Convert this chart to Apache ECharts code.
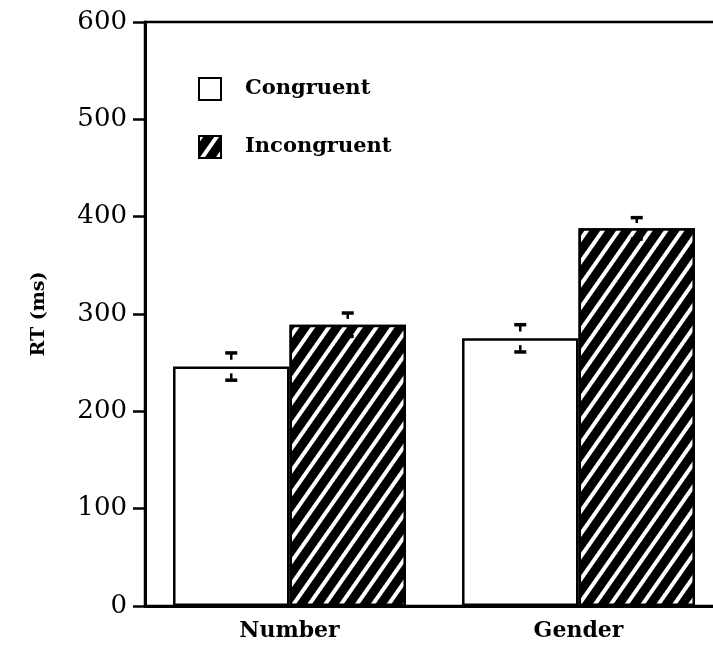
<!DOCTYPE html>
<html>
<head>
<meta charset="utf-8">
<script src="https://cdn.jsdelivr.net/npm/echarts@6/dist/echarts.min.js"></script>
<style>
html,body{margin:0;padding:0;background:#fff;}
#chart{width:713px;height:646px;}
</style>
</head>
<body>
<div id="chart"></div>
<script>
const categories = ['Number', 'Gender'];
const seriesNames = ['Congruent', 'Incongruent'];
const congruentMeans = [246, 275];
const congruentErrors = [14, 14];
const incongruentMeans = [289, 388];
const incongruentErrors = [12, 11];
const yTicks = [0, 100, 200, 300, 400, 500, 600];

const BAR_FRAC = 0.403;
const FONT = 'DejaVu Serif';

const errData = [];
congruentMeans.forEach((m, i) => errData.push([i, m, congruentErrors[i], 0]));
incongruentMeans.forEach((m, i) => errData.push([i, m, incongruentErrors[i], 1]));

const hatch = {
  symbol: 'rect',
  symbolSize: 1,
  color: '#fff',
  dashArrayX: [1, 0],
  dashArrayY: [4, 9],
  rotation: -0.96
};

const chart = echarts.init(document.getElementById('chart'));
chart.setOption({
  animation: false,
  backgroundColor: '#fff',
  grid: {
    left: 145, top: 22, width: 578, height: 584,
    outerBoundsMode: 'none', containLabel: false,
    show: true, borderColor: '#000', borderWidth: 2.5, backgroundColor: 'transparent'
  },
  legend: {
    orient: 'vertical', left: 198, top: 77, padding: 0,
    icon: 'rect',
    itemWidth: 22, itemHeight: 22, itemGap: 34,
    textStyle: { fontFamily: FONT, fontWeight: 'bold', fontSize: 21, color: '#000', padding: [0, 0, 0, 19] },
    data: seriesNames
  },
  xAxis: {
    type: 'category', data: categories,
    axisLine: { lineStyle: { color: '#000', width: 3 } },
    axisTick: { alignWithLabel: true, length: 12, lineStyle: { color: '#000', width: 2 } },
    axisLabel: { fontFamily: FONT, fontWeight: 'bold', fontSize: 22, color: '#000', margin: 14 }
  },
  yAxis: {
    type: 'value', min: yTicks[0], max: yTicks[yTicks.length - 1], interval: 100,
    name: 'RT (ms)', nameLocation: 'middle', nameGap: 96,
    nameTextStyle: { fontFamily: FONT, fontWeight: 'bold', fontSize: 19, color: '#000' },
    splitLine: { show: false },
    axisLine: { show: true, lineStyle: { color: '#000', width: 3 } },
    axisTick: { show: true, length: 12, lineStyle: { color: '#000', width: 2.5 } },
    axisLabel: { fontFamily: FONT, fontSize: 26, color: '#000', margin: 18 }
  },
  series: [
    {
      name: seriesNames[0], type: 'bar', data: congruentMeans,
      barWidth: (BAR_FRAC * 100) + '%', barGap: '0%',
      itemStyle: { color: '#fff', borderColor: '#000', borderWidth: 2.5 }
    },
    {
      name: seriesNames[1], type: 'bar', data: incongruentMeans,
      barWidth: (BAR_FRAC * 100) + '%', barGap: '0%',
      itemStyle: { color: '#000', borderColor: '#000', borderWidth: 2.5, decal: hatch }
    },
    {
      type: 'custom', data: errData, z: 10, silent: true,
      renderItem: function (params, api) {
        const ci = api.value(0), m = api.value(1), e = api.value(2), g = api.value(3);
        const band = api.size([1, 0])[0];
        const c = api.coord([ci, m]);
        const x = c[0] + (g === 0 ? -1 : 1) * band * BAR_FRAC / 2;
        const top = api.coord([ci, m + e])[1];
        const topIn = api.coord([ci, m + e / 2])[1];
        const bot = api.coord([ci, m - e])[1];
        const botIn = api.coord([ci, m - e / 2])[1];
        const hw = 6;
        const st = { stroke: '#000', lineWidth: 2.5, fill: null };
        const cap = { stroke: '#000', lineWidth: 3.5, fill: null };
        return {
          type: 'group',
          children: [
            { type: 'line', shape: { x1: x, y1: top, x2: x, y2: topIn }, style: st },
            { type: 'line', shape: { x1: x - hw, y1: top, x2: x + hw, y2: top }, style: cap },
            { type: 'line', shape: { x1: x, y1: bot, x2: x, y2: botIn }, style: st },
            { type: 'line', shape: { x1: x - hw, y1: bot, x2: x + hw, y2: bot }, style: cap }
          ]
        };
      }
    }
  ]
});
</script>
</body>
</html>
